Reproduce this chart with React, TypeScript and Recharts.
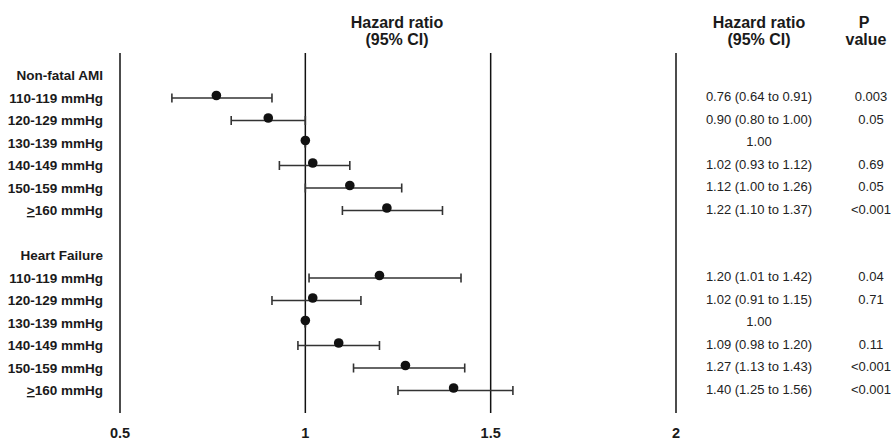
import { ScatterChart, Scatter, ErrorBar, XAxis, YAxis, ReferenceLine } from "recharts";

const groups = ["Non-fatal AMI", "Heart Failure"];
const bands = ["110-119 mmHg", "120-129 mmHg", "130-139 mmHg", "140-149 mmHg", "150-159 mmHg", "≥160 mmHg"];
const hazard = [
  [0.76, 0.9, 1.0, 1.02, 1.12, 1.22],
  [1.2, 1.02, 1.0, 1.09, 1.27, 1.4],
];
const lower = [
  [0.64, 0.8, 1.0, 0.93, 1.0, 1.1],
  [1.01, 0.91, 1.0, 0.98, 1.13, 1.25],
];
const upper = [
  [0.91, 1.0, 1.0, 1.12, 1.26, 1.37],
  [1.42, 1.15, 1.0, 1.2, 1.43, 1.56],
];
const pValues = [
  ["0.003", "0.05", "", "0.69", "0.05", "<0.001"],
  ["0.04", "0.71", "", "0.11", "<0.001", "<0.001"],
];
const xTicks = [0.5, 1, 1.5, 2];

const FONT = '"Liberation Sans", Arial, Helvetica, sans-serif';

type Row = {
  y: number;
  label: string;
  hr?: number;
  lo?: number;
  hi?: number;
  p?: string;
  err?: number[];
};

const rows: Row[] = [];
groups.forEach((g, gi) => {
  const base = gi * 8;
  rows.push({ y: base, label: g });
  bands.forEach((b, i) => {
    const hr = hazard[gi][i];
    rows.push({
      y: base + 1 + i,
      label: b,
      hr,
      lo: lower[gi][i],
      hi: upper[gi][i],
      p: pValues[gi][i],
      err: [hr - lower[gi][i], upper[gi][i] - hr],
    });
  });
});
const points = rows.filter((r) => r.hr !== undefined);
const rowTicks = rows.map((r) => r.y);

function hrText(r: Row) {
  if (r.lo === r.hi) return r.hr!.toFixed(2);
  return `${r.hr!.toFixed(2)} (${r.lo!.toFixed(2)} to ${r.hi!.toFixed(2)})`;
}

const LeftTick = (props: any) => {
  const { x, y, payload } = props;
  const row = rows.find((r) => r.y === payload.value);
  if (!row) return null;
  const ge = row.label.startsWith("≥");
  return (
    <text x={x - 17} y={y + 4.5} textAnchor="end" fontFamily={FONT} fontSize={13.5} fontWeight="bold" fill="#1a1a1a">
      {ge ? (
        <>
          <tspan style={{ textDecoration: "underline" }}>&gt;</tspan>
          {row.label.slice(1)}
        </>
      ) : (
        row.label
      )}
    </text>
  );
};

const RightTick = (props: any) => {
  const { x, y, payload } = props;
  const row = rows.find((r) => r.y === payload.value);
  if (!row || row.hr === undefined) return null;
  return (
    <g fontFamily={FONT} fontSize={13} fill="#222">
      <text x={x + 83} y={y + 3} textAnchor="middle">
        {hrText(row)}
      </text>
      <text x={x + 195} y={y + 3} textAnchor="middle">
        {row.p}
      </text>
    </g>
  );
};

const XTick = (props: any) => {
  const { x, y, payload } = props;
  return (
    <text x={x} y={y + 25} textAnchor="middle" fontFamily={FONT} fontSize={14.5} fontWeight="bold" fill="#1a1a1a">
      {payload.value}
    </text>
  );
};

const Dot = (props: any) => <circle cx={props.cx} cy={props.cy - 2.5} r={4.8} fill="#111" />;

const headStyle = { fontFamily: FONT, fontSize: 16, fontWeight: "bold" as const, fill: "#1a1a1a" };

export default function App() {
  return (
    <div style={{ position: "absolute", left: 0, top: 0 }}>
      <ScatterChart width={891} height={440} margin={{ top: 53, right: 0, bottom: 0, left: 0 }}>
        <XAxis
          type="number"
          dataKey="hr"
          domain={[0.5, 2]}
          ticks={xTicks}
          axisLine={false}
          tickLine={false}
          tickSize={0}
          tickMargin={0}
          height={27}
          tick={<XTick />}
        />
        <YAxis
          yAxisId="left"
          type="number"
          dataKey="y"
          domain={[-1, 15]}
          reversed
          ticks={rowTicks}
          axisLine={false}
          tickLine={false}
          tickSize={0}
          tickMargin={0}
          width={120}
          interval={0}
          tick={<LeftTick />}
        />
        <YAxis
          yAxisId="right"
          orientation="right"
          type="number"
          dataKey="y"
          domain={[-1, 15]}
          reversed
          ticks={rowTicks}
          axisLine={false}
          tickLine={false}
          tickSize={0}
          tickMargin={0}
          width={215}
          interval={0}
          tick={<RightTick />}
        />
        {xTicks.map((v) => (
          <ReferenceLine key={v} x={v} yAxisId="left" stroke="#111" strokeWidth={1.5} />
        ))}
        <Scatter data={points} yAxisId="left" shape={<Dot />} isAnimationActive={false}>
          <ErrorBar dataKey="err" direction="x" width={4.5} stroke="#333" strokeWidth={1.6} isAnimationActive={false} />
        </Scatter>
        <Scatter data={points} yAxisId="right" shape={() => null} isAnimationActive={false} />
        <text x={397} y={28} textAnchor="middle" {...headStyle}>Hazard ratio</text>
        <text x={397} y={45} textAnchor="middle" {...headStyle}>(95% CI)</text>
        <text x={759} y={28} textAnchor="middle" {...headStyle}>Hazard ratio</text>
        <text x={759} y={45} textAnchor="middle" {...headStyle}>(95% CI)</text>
        <text x={864} y={28} textAnchor="middle" {...headStyle}>P</text>
        <text x={866} y={45} textAnchor="middle" {...headStyle}>value</text>
      </ScatterChart>
    </div>
  );
}
